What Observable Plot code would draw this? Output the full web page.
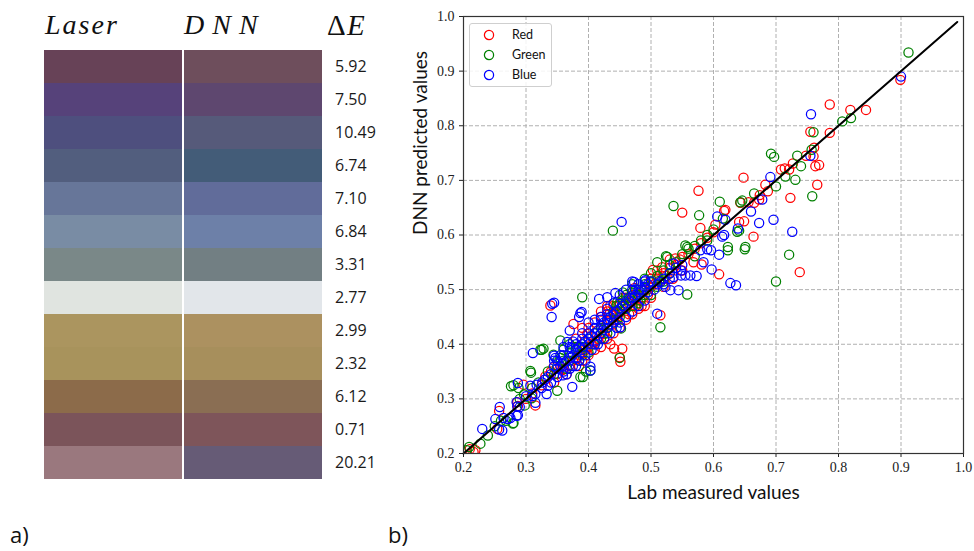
<!DOCTYPE html>
<html><head><meta charset="utf-8">
<script src="https://cdn.jsdelivr.net/npm/d3@7"></script>
<script src="https://cdn.jsdelivr.net/npm/@observablehq/plot@0.6"></script>
<style>
body{margin:0;background:#fff;}
#wrap{position:relative;width:974px;height:551px;overflow:hidden;background:#fff;}
#left{position:absolute;left:0;top:0;}
#right{position:absolute;left:390px;top:0;}
#right svg g[aria-label*="axis"] text, #right svg g[aria-label*="tick"] text{font-family:"Liberation Serif","DejaVu Serif",serif !important;font-size:14px !important;}
.serif-head{font-family:"Liberation Serif","DejaVu Serif",serif !important;}
.panel-label{position:absolute;top:519px;font-family:"Open Sans",sans-serif;font-size:22px;line-height:30px;color:#111;}
#legend{position:absolute;left:469px;top:23px;width:81px;height:62px;border:1px solid #cfcfcf;border-radius:3px;background:rgba(255,255,255,0.85);font-family:Lato,sans-serif;font-size:12.5px;color:#111;}
#legend .item{position:absolute;left:0;height:20px;line-height:20px;}
#legend svg{position:absolute;left:10px;top:1px;}
#legend span{position:absolute;left:42px;white-space:nowrap;}
</style></head><body>
<div id="wrap"><div id="left"></div><div id="right"></div>
<div class="panel-label" style="left:10px">a)</div>
<div class="panel-label" style="left:388px">b)</div>
<div id="legend"></div>
</div>
<script>
// ---- Panel a) data ----
const methods = ["Laser", "DNN"];
const laserColors = ["#674257","#56427a","#4e4f7e","#525e7e","#677699","#798ca4","#7a8888","#e0e4e0","#ab955f","#a8935c","#8c6b4a","#7b545a","#9a787e"];
const dnnColors   = ["#6e4e5c","#5e476f","#565a7a","#435c78","#616c9a","#6d80a8","#727f83","#e2e6ea","#ac9160","#a78f5c","#8a6e53","#7e555a","#665b76"];
const deltaE = [5.92, 7.50, 10.49, 6.74, 7.10, 6.84, 3.31, 2.77, 2.99, 2.32, 6.12, 0.71, 20.21];

// ---- Panel b) data: [Lab measured, DNN predicted] ----
const axisTicks = [0.2,0.3,0.4,0.5,0.6,0.7,0.8,0.9,1.0];
const identityLine = [0.2, 0.99];
const seriesNames = ["Red","Green","Blue"];
const seriesColors = ["#ff0000","#008000","#0000ff"];

const redPoints = [
[0.899,0.884],[0.786,0.839],[0.819,0.829],[0.844,0.829],[0.755,0.789],[0.786,0.787],
[0.761,0.760],[0.760,0.744],[0.763,0.726],[0.769,0.728],[0.766,0.692],[0.748,0.745],
[0.727,0.731],[0.708,0.720],[0.721,0.720],[0.714,0.722],[0.648,0.705],[0.683,0.692],[0.687,0.680],
[0.723,0.668],[0.576,0.681],[0.673,0.665],[0.674,0.673],[0.656,0.660],[0.665,0.659],[0.617,0.644],
[0.619,0.646],[0.550,0.641],[0.649,0.625],[0.641,0.624],[0.579,0.613],[0.603,0.619],[0.664,0.597],
[0.643,0.659],[0.738,0.532],[0.609,0.528],[0.581,0.546],[0.568,0.550],[0.503,0.536],[0.546,0.555],
[0.518,0.541],[0.539,0.557],[0.435,0.471],[0.441,0.444],[0.443,0.457],[0.376,0.437],[0.441,0.392],
[0.454,0.392],[0.451,0.368],[0.450,0.376],[0.515,0.453],[0.488,0.499],[0.474,0.503],[0.398,0.419],[0.425,0.419],
[0.339,0.471],[0.350,0.346],[0.296,0.326],[0.315,0.288],[0.331,0.341],[0.286,0.294],[0.257,0.278],
[0.254,0.245],[0.210,0.208],[0.216,0.203],[0.219,0.206],[0.287,0.287],[0.344,0.358],[0.359,0.353],
[0.33,0.335],[0.34,0.35],[0.355,0.36],[0.36,0.355],[0.37,0.362],[0.375,0.37],[0.38,0.372],[0.385,0.38],
[0.39,0.383],[0.395,0.39],[0.40,0.395],[0.405,0.40],[0.41,0.405],[0.415,0.41],[0.42,0.42],[0.425,0.43],
[0.43,0.44],[0.435,0.445],[0.44,0.452],[0.445,0.45],[0.45,0.46],[0.455,0.47],[0.46,0.465],[0.465,0.475],
[0.47,0.48],[0.475,0.47],[0.48,0.49],[0.485,0.485],[0.49,0.50],[0.495,0.49],[0.50,0.505],[0.505,0.51],
[0.51,0.52],[0.515,0.515],[0.52,0.53],[0.525,0.525],[0.53,0.54],[0.54,0.545],[0.55,0.56],[0.56,0.565],
[0.57,0.575],[0.58,0.585],[0.59,0.595],[0.60,0.605],[0.41,0.44],[0.42,0.46],[0.43,0.47],[0.44,0.46],
[0.45,0.475],[0.46,0.485],[0.435,0.40],[0.44,0.42],[0.42,0.395],[0.40,0.38],[0.46,0.445],[0.47,0.455],
[0.48,0.465],[0.49,0.47],[0.385,0.36],[0.39,0.43],[0.38,0.41],[0.40,0.43],[0.42,0.45],[0.43,0.46],
[0.345,0.33],[0.365,0.345],[0.39,0.37],[0.41,0.39],[0.43,0.41],[0.45,0.43],[0.465,0.455],[0.485,0.47],
[0.50,0.485],[0.52,0.505],[0.535,0.52],[0.55,0.535],[0.44,0.47],[0.455,0.485],[0.47,0.49],[0.50,0.52],
[0.51,0.535],[0.53,0.555],[0.325,0.325],[0.31,0.31],[0.30,0.30]
];

const greenPoints = [
[0.912,0.934],[0.806,0.808],[0.820,0.814],[0.760,0.788],[0.757,0.756],[0.692,0.749],[0.697,0.743],
[0.734,0.745],[0.740,0.726],[0.715,0.707],[0.731,0.701],[0.700,0.689],[0.758,0.671],[0.665,0.676],
[0.643,0.660],[0.646,0.663],[0.610,0.661],[0.577,0.636],[0.615,0.630],[0.641,0.608],[0.651,0.578],
[0.623,0.578],[0.536,0.653],[0.439,0.608],[0.721,0.564],[0.700,0.515],[0.558,0.491],[0.570,0.561],
[0.623,0.572],[0.650,0.574],[0.638,0.606],[0.558,0.578],[0.526,0.560],[0.513,0.516],[0.590,0.590],
[0.555,0.581],[0.524,0.561],[0.510,0.550],[0.390,0.486],[0.446,0.477],[0.455,0.472],[0.355,0.407],
[0.380,0.390],[0.396,0.350],[0.450,0.375],[0.515,0.431],[0.483,0.480],[0.423,0.426],[0.452,0.429],
[0.328,0.392],[0.323,0.390],[0.344,0.381],[0.307,0.351],[0.276,0.323],[0.288,0.320],[0.297,0.308],
[0.298,0.288],[0.350,0.315],[0.387,0.340],[0.391,0.340],[0.403,0.352],[0.279,0.255],[0.268,0.260],
[0.239,0.233],[0.227,0.218],[0.209,0.212],[0.205,0.206],[0.325,0.390],[0.308,0.348],[0.280,0.325],
[0.309,0.301],[0.280,0.256],
[0.35,0.36],[0.36,0.37],[0.37,0.385],[0.38,0.39],[0.39,0.395],[0.40,0.41],[0.41,0.42],[0.42,0.43],
[0.43,0.445],[0.44,0.46],[0.445,0.47],[0.45,0.475],[0.455,0.48],[0.46,0.49],[0.465,0.485],[0.47,0.495],
[0.475,0.50],[0.48,0.49],[0.485,0.50],[0.49,0.51],[0.50,0.515],[0.51,0.525],[0.52,0.535],[0.53,0.545],
[0.54,0.55],[0.55,0.565],[0.56,0.575],[0.57,0.58],[0.58,0.59],[0.59,0.60],[0.60,0.61],[0.345,0.345],
[0.365,0.355],[0.42,0.41],[0.43,0.42],[0.45,0.45],[0.46,0.465],[0.44,0.44],[0.48,0.475],[0.50,0.49],
[0.385,0.37],[0.40,0.385],[0.36,0.39],[0.37,0.40],[0.38,0.395],
[0.335,0.35],[0.355,0.375],[0.37,0.37],[0.39,0.38],[0.41,0.40],[0.43,0.43],[0.47,0.47],[0.49,0.49],
[0.51,0.505],[0.52,0.515],[0.53,0.53],[0.455,0.495],[0.47,0.51],[0.49,0.52],[0.50,0.53],[0.32,0.33],
[0.31,0.32],[0.29,0.30],[0.26,0.26],[0.25,0.25]
];

const bluePoints = [
[0.900,0.890],[0.756,0.821],[0.755,0.745],[0.691,0.706],[0.678,0.665],[0.660,0.643],[0.606,0.634],
[0.673,0.622],[0.696,0.628],[0.639,0.612],[0.726,0.606],[0.617,0.600],[0.614,0.597],[0.453,0.624],
[0.627,0.512],[0.636,0.508],[0.597,0.537],[0.609,0.564],[0.573,0.525],[0.563,0.526],[0.555,0.526],
[0.619,0.628],[0.596,0.572],[0.590,0.574],[0.548,0.526],[0.491,0.517],[0.515,0.514],[0.536,0.523],
[0.548,0.535],[0.536,0.548],[0.579,0.572],[0.584,0.550],[0.544,0.499],[0.531,0.499],[0.523,0.505],
[0.430,0.486],[0.417,0.483],[0.443,0.494],[0.473,0.514],[0.387,0.457],[0.385,0.450],[0.370,0.425],
[0.366,0.404],[0.373,0.393],[0.395,0.370],[0.403,0.352],[0.510,0.456],[0.474,0.486],[0.414,0.407],
[0.451,0.431],[0.342,0.474],[0.345,0.476],[0.341,0.450],[0.389,0.459],[0.311,0.384],[0.345,0.379],
[0.347,0.375],[0.345,0.370],[0.287,0.329],[0.307,0.324],[0.315,0.309],[0.315,0.293],[0.333,0.309],
[0.374,0.322],[0.335,0.324],[0.403,0.359],[0.286,0.286],[0.287,0.270],[0.258,0.285],[0.251,0.263],
[0.271,0.263],[0.262,0.242],[0.230,0.245],[0.317,0.326],[0.326,0.330],[0.285,0.294],[0.264,0.265],
[0.275,0.265],[0.285,0.269],[0.257,0.244],[0.359,0.343],
[0.33,0.335],[0.34,0.345],[0.345,0.36],[0.35,0.355],[0.355,0.36],[0.36,0.365],[0.365,0.37],[0.37,0.375],
[0.375,0.38],[0.38,0.39],[0.385,0.395],[0.39,0.40],[0.395,0.405],[0.40,0.41],[0.405,0.415],[0.41,0.42],
[0.415,0.425],[0.42,0.435],[0.425,0.44],[0.43,0.445],[0.435,0.45],[0.44,0.455],[0.445,0.46],[0.45,0.465],
[0.455,0.47],[0.46,0.475],[0.465,0.48],[0.47,0.485],[0.475,0.49],[0.48,0.495],[0.485,0.50],[0.49,0.505],
[0.495,0.51],[0.50,0.515],[0.51,0.51],[0.52,0.52],[0.53,0.53],[0.54,0.54],[0.55,0.545],[0.36,0.38],
[0.37,0.395],[0.38,0.40],[0.39,0.41],[0.40,0.42],[0.41,0.43],[0.42,0.445],[0.43,0.455],[0.375,0.36],
[0.385,0.37],[0.395,0.38],[0.405,0.39],[0.415,0.40],[0.425,0.41],[0.435,0.42],[0.445,0.43],[0.37,0.355],
[0.38,0.36],[0.365,0.345],[0.36,0.35],[0.40,0.40],[0.41,0.40],[0.43,0.43],[0.45,0.44],[0.47,0.46],
[0.48,0.47],[0.49,0.48],[0.42,0.45],[0.43,0.465],[0.44,0.475],[0.47,0.50],[0.48,0.51],[0.49,0.515],
[0.325,0.32],[0.335,0.34],[0.35,0.37],[0.355,0.38],[0.36,0.395],[0.375,0.405],[0.39,0.42],[0.40,0.44],
[0.41,0.445],[0.42,0.42],[0.44,0.44],[0.46,0.45],[0.38,0.375],[0.39,0.39],[0.35,0.34],[0.34,0.33],
[0.31,0.305],[0.30,0.305],[0.29,0.285],[0.45,0.49],[0.46,0.50],[0.495,0.495],[0.505,0.50],[0.52,0.51],
[0.53,0.52],[0.47,0.515],[0.48,0.50]
];

// ---- Panel a) ----
const rowIds = deltaE.map((_, i) => i);
const swatchRows = deltaE.map((d, i) => ({row: i, dE: d, laser: laserColors[i], dnn: dnnColors[i]}));
const serif = "Liberation Serif";

const left = Plot.plot({
  width: 390, height: 551, margin: 0,
  x: {type: "band", domain: methods, range: [44, 322], padding: 0, axis: null},
  y: {type: "band", domain: rowIds, range: [44, 484], padding: 0, axis: null},
  color: {type: "identity"},
  style: {background: "transparent", overflow: "visible"},
  marks: [
    Plot.cell(swatchRows, {x: () => "Laser", y: "row", fill: "laser", insetRight: 1}),
    Plot.cell(swatchRows, {x: () => "DNN", y: "row", fill: "dnn", insetLeft: 1}),
    Plot.text(swatchRows, {x: () => "DNN", y: "row", text: d => d.dE.toFixed(2), textAnchor: "start", dx: 82, fontSize: 16, fontFamily: "Open Sans", fill: "#1a1a1a"}),
    Plot.text(["Laser"], {x: d => d, text: d => d, frameAnchor: "top", lineAnchor: "middle", dy: 25, dx: -69, textAnchor: "start", fontSize: 28, fontStyle: "italic", fontFamily: serif, fill: "#111"}),
    Plot.text(["DNN"], {x: d => d, text: d => d, frameAnchor: "top", lineAnchor: "middle", dy: 25, dx: -69, textAnchor: "start", fontSize: 28, fontStyle: "italic", fontFamily: serif, fill: "#111"}),
    Plot.text(["Δ"], {x: () => "DNN", text: d => d, frameAnchor: "top", lineAnchor: "middle", dy: 25, dx: 74, textAnchor: "start", fontSize: 29, fontFamily: serif, fill: "#111"}),
    Plot.text(["E"], {x: () => "DNN", text: d => d, frameAnchor: "top", lineAnchor: "middle", dy: 25, dx: 94, textAnchor: "start", fontSize: 29, fontStyle: "italic", fontFamily: serif, fill: "#111"})
  ]
});
document.getElementById("left").appendChild(left);
// math-italic header styling
left.querySelectorAll("text").forEach(t => {
  const s = t.textContent;
  if (s === "DNN") t.setAttribute("letter-spacing", "8");
  if (s === "Laser") t.setAttribute("letter-spacing", "2");
  if (s === "DNN" || s === "Laser" || s === "Δ" || s === "E") t.classList.add("serif-head");
});

// ---- Panel b) ----
const fmt = d => d.toFixed(1);
const dotOpts = (color) => ({x: d => d[0], y: d => d[1], r: 4.6, stroke: color, strokeWidth: 1.25, fill: "none", clip: true});
const right = Plot.plot({
  width: 584, height: 500,
  marginLeft: 73, marginRight: 11, marginTop: 16, marginBottom: 47,
  x: {domain: [0.2, 1.0], ticks: axisTicks, tickFormat: fmt, tickSize: 4, tickPadding: 5, label: null},
  y: {domain: [0.2, 1.0], ticks: axisTicks, tickFormat: fmt, tickSize: 4, tickPadding: 5, label: null},
  style: {fontFamily: serif, fontSize: "14px", color: "#222", background: "transparent", overflow: "visible"},
  marks: [
    Plot.ruleX(axisTicks, {stroke: "#b0b0b0", strokeWidth: 1, strokeDasharray: "4,2"}),
    Plot.ruleY(axisTicks, {stroke: "#b0b0b0", strokeWidth: 1, strokeDasharray: "4,2"}),
    Plot.dot(redPoints, dotOpts(seriesColors[0])),
    Plot.dot(greenPoints, dotOpts(seriesColors[1])),
    Plot.dot(bluePoints, dotOpts(seriesColors[2])),
    Plot.line(identityLine, {x: d => d, y: d => d, stroke: "#000", strokeWidth: 2}),
    Plot.frame({stroke: "#333", strokeWidth: 1.2}),
    Plot.text(["Lab measured values"], {text: d => d, frameAnchor: "bottom", lineAnchor: "middle", dy: 39, fontSize: 19, fontFamily: "Lato", fill: "#111"}),
    Plot.text(["DNN predicted values"], {text: d => d, frameAnchor: "left", lineAnchor: "middle", rotate: -90, dx: -43, fontSize: 19, fontFamily: "Lato", fill: "#111"})
  ]
});
document.getElementById("right").appendChild(right);
// tick labels in a serif face (as in the reference)
right.querySelectorAll("g[aria-label*='axis'] text, g[aria-label*='tick'] text").forEach(t => {
  t.style.fontFamily = "'Liberation Serif', serif";
});

// ---- Legend ----
const legend = document.getElementById("legend");
seriesNames.forEach((name, i) => {
  const item = document.createElement("div");
  item.className = "item";
  item.style.top = (1 + i * 20) + "px";
  item.style.width = "100%";
  item.innerHTML = `<svg width="18" height="18"><circle cx="9" cy="9" r="4.6" fill="none" stroke="${seriesColors[i]}" stroke-width="1.25"/></svg><span>${name}</span>`;
  legend.appendChild(item);
});
</script>
</body></html>
